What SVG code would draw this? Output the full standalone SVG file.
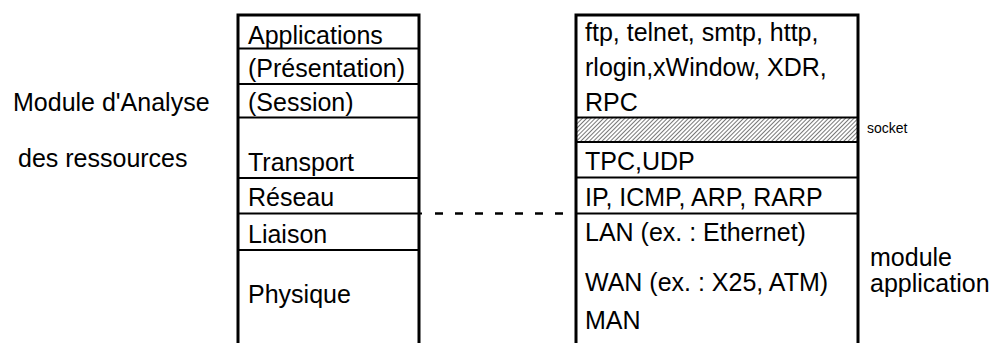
<svg xmlns="http://www.w3.org/2000/svg" width="996" height="343" viewBox="0 0 996 343">
<style>
text{font-family:"Liberation Sans",Arial,sans-serif;font-size:25px;fill:#000}
.sm{font-size:14px}
.b{stroke:#000;stroke-width:3;fill:none}
.h{stroke:#000;stroke-width:2.2;fill:none}
</style>
<defs>
<pattern id="hatch" width="3" height="3" patternUnits="userSpaceOnUse" patternTransform="rotate(45)">
<rect width="3" height="3" fill="#fff"/>
<line x1="0" y1="0" x2="0" y2="3" stroke="#555" stroke-width="1.6"/>
</pattern>
</defs>
<rect width="996" height="343" fill="#fff"/>
<g id="labels-left">
<text x="13" y="111">Module d'Analyse</text>
<text x="18" y="167">des ressources</text>
</g>
<g id="stack-left">
<path class="b" d="M238,343 V15 H419 V343"/>
<path class="h" d="M238,48.5 H419 M238,84 H419 M238,117.5 H419 M238,178 H419 M238,213.5 H422 M238,250 H419"/>
<text x="248" y="44">Applications</text>
<text x="248" y="77">(Présentation)</text>
<text x="248" y="111">(Session)</text>
<text x="248" y="171">Transport</text>
<text x="248" y="206">Réseau</text>
<text x="248" y="243">Liaison</text>
<text x="248" y="303">Physique</text>
</g>
<g id="stack-right">
<rect x="576" y="117.5" width="282" height="24.5" fill="url(#hatch)"/>
<path class="b" d="M576,343 V15 H858 V343"/>
<path class="h" d="M576,117.5 H858 M576,142 H858 M576,177.5 H858 M576,213.5 H858"/>
<text x="585" y="41">ftp, telnet, smtp, http,</text>
<text x="585" y="76">rlogin,xWindow, XDR,</text>
<text x="585" y="111">RPC</text>
<text x="585" y="170">TPC,UDP</text>
<text x="585" y="206">IP, ICMP, ARP, RARP</text>
<text x="585" y="241">LAN (ex. : Ethernet)</text>
<text x="585" y="291">WAN (ex. : X25, ATM)</text>
<text x="585" y="329">MAN</text>
</g>
<g id="labels-right">
<text class="sm" x="867" y="133">socket</text>
<text x="870" y="266">module</text>
<text x="870" y="292">application</text>
</g>
<g id="connectors">
<path d="M435,213.5 H565" stroke="#000" stroke-width="2.5" stroke-dasharray="8 12" fill="none"/>
</g>
</svg>
